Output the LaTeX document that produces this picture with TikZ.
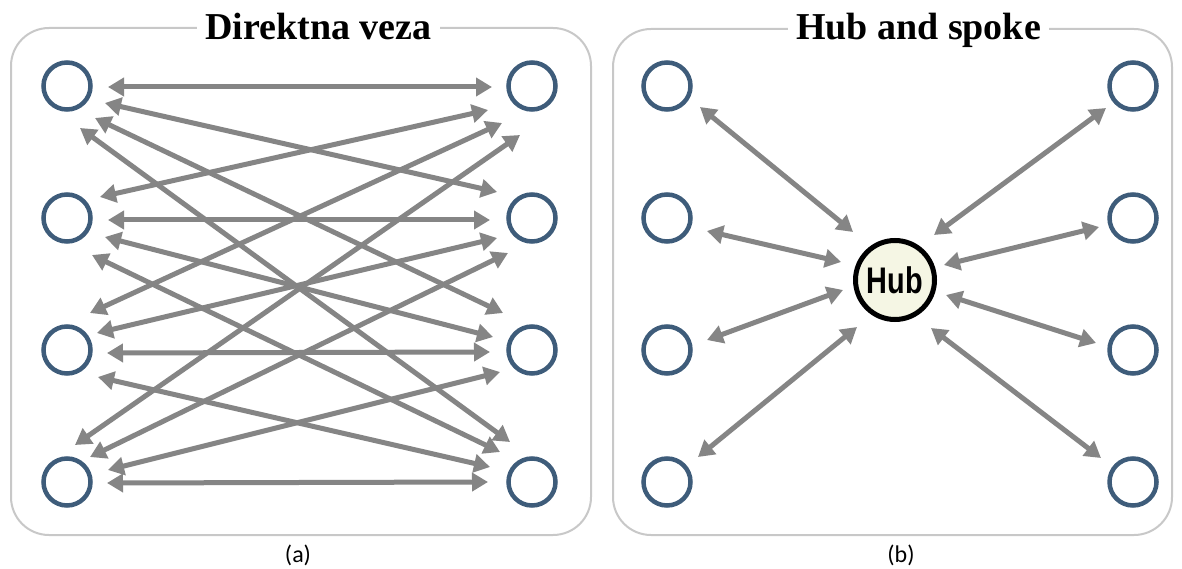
\documentclass[tikz,border=0pt]{standalone}
\usepackage{fontspec}
\setmainfont{Liberation Serif}
\setsansfont{Carlito}
\newfontfamily\hubfont{Liberation Sans}
\usepackage{graphicx}
\usetikzlibrary{arrows.meta}

\definecolor{nodeblue}{RGB}{62,92,122}
\definecolor{arrowgray}{RGB}{133,133,133}
\definecolor{framegray}{RGB}{200,200,200}
\definecolor{hubfill}{RGB}{245,246,228}

\begin{document}
\begin{tikzpicture}[x=1pt,y=-1pt,
  site/.style={circle,draw=nodeblue,line width=4.5pt,minimum size=47pt,inner sep=0pt,outer sep=0pt},
  hubnode/.style={circle,draw=black,line width=5pt,fill=hubfill,minimum size=79pt,inner sep=0pt,outer sep=0pt,font=\hubfont\bfseries\fontsize{37}{42}\selectfont},
  link/.style={draw=arrowgray,line width=5pt,{Triangle[length=16pt,width=18pt]}-{Triangle[length=16pt,width=18pt]}},
  frame/.style={draw=framegray,line width=2pt,rounded corners=38pt},
  title/.style={fill=white,inner xsep=8pt,inner ysep=2pt,anchor=base,font=\bfseries\fontsize{38}{44}\selectfont},
  caption/.style={font=\sffamily\fontsize{24}{28}\selectfont}]

\fill[white] (0,0) rectangle (1182,569);
\useasboundingbox (0,0) rectangle (1182,569);

% frames and titles
\draw[frame] (11,28) rectangle (591,535);
\draw[frame] (613,29) rectangle (1172,535);
\node[title] (t1) at (318.5,40) {Direktna veza};
\node[title] (t2) at (918.5,40) {Hub and spoke};
\node[caption] (ca) at (298,555) {(a)};
\node[caption] (cb) at (901,555) {(b)};

% panel (a) nodes
\node[site] (L1) at (67,86) {};
\node[site] (L2) at (67,218) {};
\node[site] (L3) at (67,350) {};
\node[site] (L4) at (67,482) {};
\node[site] (R1) at (532,86) {};
\node[site] (R2) at (532,218) {};
\node[site] (R3) at (532,350) {};
\node[site] (R4) at (532,482) {};

% panel (a) links
\draw[link] ([shift={(41,1)}]L1.center) -- ([shift={(-40,1)}]R1.center);
\draw[link] ([shift={(38,17)}]L1.center) -- ([shift={(-35,-26)}]R2.center);
\draw[link] ([shift={(28,32)}]L1.center) -- ([shift={(-29,-37)}]R3.center);
\draw[link] ([shift={(13,42)}]L1.center) -- ([shift={(-22,-40)}]R4.center);
\draw[link] ([shift={(33,-21)}]L2.center) -- ([shift={(-44,24)}]R1.center);
\draw[link] ([shift={(41,2)}]L2.center) -- ([shift={(-42,2)}]R2.center);
\draw[link] ([shift={(38,19)}]L2.center) -- ([shift={(-39,-13)}]R3.center);
\draw[link] ([shift={(25,37)}]L2.center) -- ([shift={(-32,-30)}]R4.center);
\draw[link] ([shift={(23,-37)}]L3.center) -- ([shift={(-30,37)}]R1.center);
\draw[link] ([shift={(30,-17)}]L3.center) -- ([shift={(-35,20)}]R2.center);
\draw[link] ([shift={(40,3)}]L3.center) -- ([shift={(-42,2)}]R3.center);
\draw[link] ([shift={(31,27)}]L3.center) -- ([shift={(-42,-15)}]R4.center);
\draw[link] ([shift={(8,-37)}]L4.center) -- ([shift={(-12,49)}]R1.center);
\draw[link] ([shift={(23,-25)}]L4.center) -- ([shift={(-24,35)}]R2.center);
\draw[link] ([shift={(41,-12)}]L4.center) -- ([shift={(-32,22)}]R3.center);
\draw[link] ([shift={(40,1)}]L4.center) -- ([shift={(-44,0)}]R4.center);

% panel (b) nodes
\node[site] (P1) at (667,86) {};
\node[site] (P2) at (667,218) {};
\node[site] (P3) at (667,350) {};
\node[site] (P4) at (667,482) {};
\node[site] (Q1) at (1133,86) {};
\node[site] (Q2) at (1133,218) {};
\node[site] (Q3) at (1133,350) {};
\node[site] (Q4) at (1133,482) {};
\node[hubnode] (H) at (895,280) {\scalebox{0.78}[1]{Hub}};

% panel (b) links
\draw[link] ([shift={(33,21)}]P1.center) -- ([shift={(-42,-48)}]H.center);
\draw[link] ([shift={(40,13)}]P2.center) -- ([shift={(-54,-18)}]H.center);
\draw[link] ([shift={(40,-10)}]P3.center) -- ([shift={(-52,10)}]H.center);
\draw[link] ([shift={(31,-25)}]P4.center) -- ([shift={(-38,47)}]H.center);
\draw[link] ([shift={(-27,22)}]Q1.center) -- ([shift={(39,-45)}]H.center);
\draw[link] ([shift={(-34,9)}]Q2.center) -- ([shift={(49,-15)}]H.center);
\draw[link] ([shift={(-37,-7)}]Q3.center) -- ([shift={(51,15)}]H.center);
\draw[link] ([shift={(-32,-24)}]Q4.center) -- ([shift={(36,48)}]H.center);
\end{tikzpicture}
\end{document}
